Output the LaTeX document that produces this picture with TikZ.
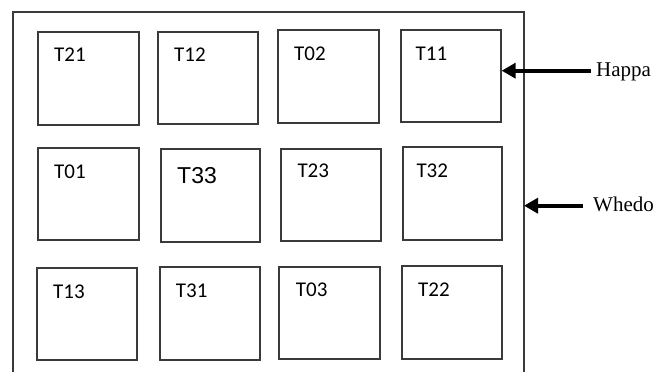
\documentclass[tikz,border=0pt]{standalone}
\usepackage{fontspec}
\setmainfont{Liberation Serif}
\newfontfamily\lblfont{Carlito}
\newfontfamily\bigfont{Liberation Sans}
\usetikzlibrary{arrows.meta}
\definecolor{edge}{HTML}{3A3A3A}
\tikzset{
  tbox/.style={draw=edge, line width=1.3pt, rectangle, inner sep=0pt},
  tlabel/.style={anchor=base west, inner sep=0pt, font=\lblfont\fontsize{21}{21}\selectfont},
  sidelabel/.style={anchor=base west, inner sep=0pt, font=\fontsize{21}{21}\selectfont},
  bigarrow/.style={line width=4.3pt, -{Triangle[length=14pt,width=15pt]}},
  frameline/.style={draw=edge, line width=1.3pt}
}
\begin{document}
\begin{tikzpicture}[x=1pt,y=-1pt]
\useasboundingbox (0,0) rectangle (668,372);
% outer frame
\coordinate (fbl) at (13,372);
\coordinate (ftl) at (13,12);
\coordinate (ftr) at (524,12);
\coordinate (fbr) at (524,372);
\draw[frameline] (fbl) -- (ftl) -- (ftr) -- (fbr);
% boxes
\node[tbox, minimum width=101pt, minimum height=93pt] (T21) at (88.5,78.5) {};
\node[tbox, minimum width=100pt, minimum height=92pt] (T12) at (208,78) {};
\node[tbox, minimum width=101pt, minimum height=93pt] (T02) at (328.5,76.5) {};
\node[tbox, minimum width=100pt, minimum height=92pt] (T11) at (451,76) {};
\node[tbox, minimum width=101pt, minimum height=92pt] (T01) at (88.5,194) {};
\node[tbox, minimum width=99pt, minimum height=93pt] (T33) at (210.5,195.5) {};
\node[tbox, minimum width=100pt, minimum height=92pt] (T23) at (331,195) {};
\node[tbox, minimum width=99pt, minimum height=93pt] (T32) at (452.5,193.5) {};
\node[tbox, minimum width=100pt, minimum height=92pt] (T13) at (87,314) {};
\node[tbox, minimum width=100pt, minimum height=93pt] (T31) at (210,313.5) {};
\node[tbox, minimum width=101pt, minimum height=92pt] (T03) at (329.5,313) {};
\node[tbox, minimum width=100pt, minimum height=93pt] (T22) at (452,312.5) {};
% labels
\node[tlabel] (lT21) at (54,61.7) {T21};
\node[tlabel] (lT12) at (174,61.7) {T12};
\node[tlabel] (lT02) at (294,60.7) {T02};
\node[tlabel] (lT11) at (415.5,60.5) {T11};
\node[tlabel] (lT01) at (54,178.5) {T01};
\node[anchor=base west, inner sep=0pt, font=\bigfont\fontsize{23}{23}\selectfont] (lT33) at (177,183.3) {T33};
\node[tlabel] (lT23) at (297.3,177.7) {T23};
\node[tlabel] (lT32) at (416.3,177.5) {T32};
\node[tlabel] (lT13) at (53,298.3) {T13};
\node[tlabel] (lT31) at (175.7,297.7) {T31};
\node[tlabel] (lT03) at (295.7,296.5) {T03};
\node[tlabel] (lT22) at (418,296.5) {T22};
% side labels and arrows
\node[sidelabel] (happa) at (596,76.7) {Happa};
\node[sidelabel] (whedo) at (593,211) {Whedo};
\coordinate (ha) at (590.7,70.7);
\coordinate (wh) at (582.7,205.7);
\draw[bigarrow] (ha) -- (ha -| T11.east);
\draw[bigarrow] (wh) -- (wh -| ftr);
\end{tikzpicture}
\end{document}
